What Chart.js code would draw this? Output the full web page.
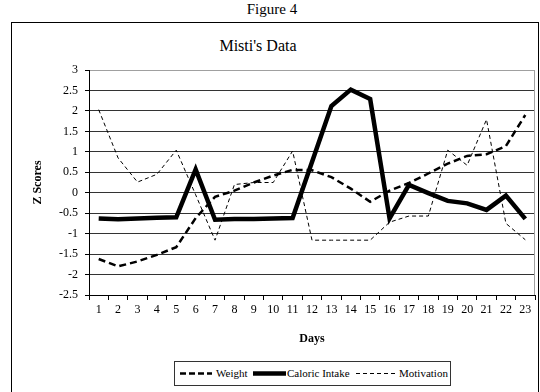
<!DOCTYPE html>
<html><head><meta charset="utf-8">
<script src="https://cdn.jsdelivr.net/npm/chart.js@4.4.1/dist/chart.umd.min.js"></script>
<style>
html,body{margin:0;padding:0;background:#fff;}
#wrap{position:relative;width:540px;height:392px;overflow:hidden;font-family:"Liberation Serif","Times New Roman",serif;color:#000;}
#fig{position:absolute;left:0;width:544px;top:1px;text-align:center;font-size:15px;line-height:16px;}
#frame{position:absolute;left:11px;top:22px;width:526px;height:400px;border:1px solid #000;}
#title{position:absolute;left:158px;width:200px;top:37px;text-align:center;font-size:16px;line-height:18px;}
canvas{position:absolute;left:0;top:0;}
#legend{position:absolute;left:174px;top:361px;width:275px;height:23px;border:1px solid #333;background:#fff;}
#legend span{position:absolute;top:4px;font-size:11px;line-height:14px;white-space:nowrap;}
#legend svg{position:absolute;left:0;top:0;}
</style></head>
<body>
<div id="wrap">
  <div id="fig">Figure 4</div>
  <div id="frame"></div>
  <div id="title">Misti's Data</div>
  <canvas id="c" width="540" height="392"></canvas>
  <div id="legend">
    <svg width="275" height="23">
      <line x1="5" y1="11.5" x2="37" y2="11.5" stroke="#000" stroke-width="2.5" stroke-dasharray="6 3"/>
      <line x1="78" y1="11.5" x2="111" y2="11.5" stroke="#000" stroke-width="4.5"/>
      <line x1="181" y1="11.5" x2="222" y2="11.5" stroke="#000" stroke-width="1" stroke-dasharray="4 3"/>
    </svg>
    <span style="left:41px">Weight</span>
    <span style="left:112px">Caloric Intake</span>
    <span style="left:224px">Motivation</span>
  </div>
</div>
<script>
const days = ['1','2','3','4','5','6','7','8','9','10','11','12','13','14','15','16','17','18','19','20','21','22','23'];
const weight = [-1.62,-1.80,-1.68,-1.52,-1.33,-0.62,-0.10,0.05,0.25,0.42,0.56,0.55,0.38,0.10,-0.22,0.05,0.24,0.47,0.71,0.90,0.94,1.14,1.90];
const caloric = [-0.63,-0.65,-0.63,-0.61,-0.60,0.57,-0.66,-0.64,-0.64,-0.63,-0.62,0.75,2.12,2.52,2.29,-0.63,0.19,-0.01,-0.20,-0.26,-0.42,-0.07,-0.64];
const motivation = [2.03,0.85,0.26,0.45,1.04,-0.05,-1.16,0.20,0.25,0.25,1.02,-1.16,-1.16,-1.16,-1.16,-0.72,-0.57,-0.57,1.04,0.67,1.79,-0.75,-1.15];
const yTicks = [3,2.5,2,1.5,1,0.5,0,-0.5,-1,-1.5,-2,-2.5];

const serif = '"Liberation Serif", "Times New Roman", serif';

const plotBorder = {
  id:'plotBorder',
  beforeDatasetsDraw(chart){
    const {ctx, chartArea:a} = chart;
    ctx.save();
    ctx.strokeStyle = '#a0a0a0';
    ctx.lineWidth = 1;
    ctx.beginPath();
    ctx.moveTo(Math.round(a.right)-0.5, a.top);
    ctx.lineTo(Math.round(a.right)-0.5, a.bottom);
    ctx.stroke();
    ctx.restore();
  }
};

new Chart(document.getElementById('c'), {
  type:'line',
  data:{
    labels: days,
    datasets:[
      {label:'Weight', data: weight, borderColor:'#000', borderWidth:2.5, borderDash:[7,4], pointRadius:0, tension:0, fill:false},
      {label:'Caloric Intake', data: caloric, borderColor:'#000', borderWidth:4.5, pointRadius:0, tension:0, fill:false},
      {label:'Motivation', data: motivation, borderColor:'#000', borderWidth:1, borderDash:[4,3], pointRadius:0, tension:0, fill:false}
    ]
  },
  options:{
    responsive:false,
    animation:false,
    devicePixelRatio:1,
    layout:{padding:{left:20,right:5,top:70,bottom:0}},
    plugins:{legend:{display:false}, title:{display:false}, tooltip:{enabled:false}},
    scales:{
      x:{
        type:'category',
        offset:true,
        grid:{display:true, drawOnChartArea:false, drawTicks:true, tickLength:5, offset:true, color:'#000'},
        border:{display:true, color:'#000', width:1},
        ticks:{font:{family:serif, size:12}, color:'#000', padding:3, maxRotation:0, autoSkip:false},
        title:{display:true, text:'Days', color:'#000', font:{family:serif, size:12, weight:'bold'}, padding:{top:0,bottom:46}},
        afterFit(s){ s.height = 97; }
      },
      y:{
        min:-2.5, max:3,
        afterBuildTicks(s){ s.ticks = yTicks.map(v => ({value:v})); },
        grid:{color: c => (c.tick && c.tick.value === 3) ? '#a0a0a0' : '#333', tickColor:'#000', tickLength:4, drawTicks:true},
        border:{display:true, color:'#000', width:1},
        ticks:{callback: v => String(v), font:{family:serif, size:12}, color:'#000', padding:7},
        title:{display:true, text:'Z Scores', color:'#000', font:{family:serif, size:12, weight:'bold'}, padding:{top:11,bottom:0}},
        afterFit(s){ s.width = 69; }
      }
    }
  },
  plugins:[plotBorder]
});
</script>
</body></html>
